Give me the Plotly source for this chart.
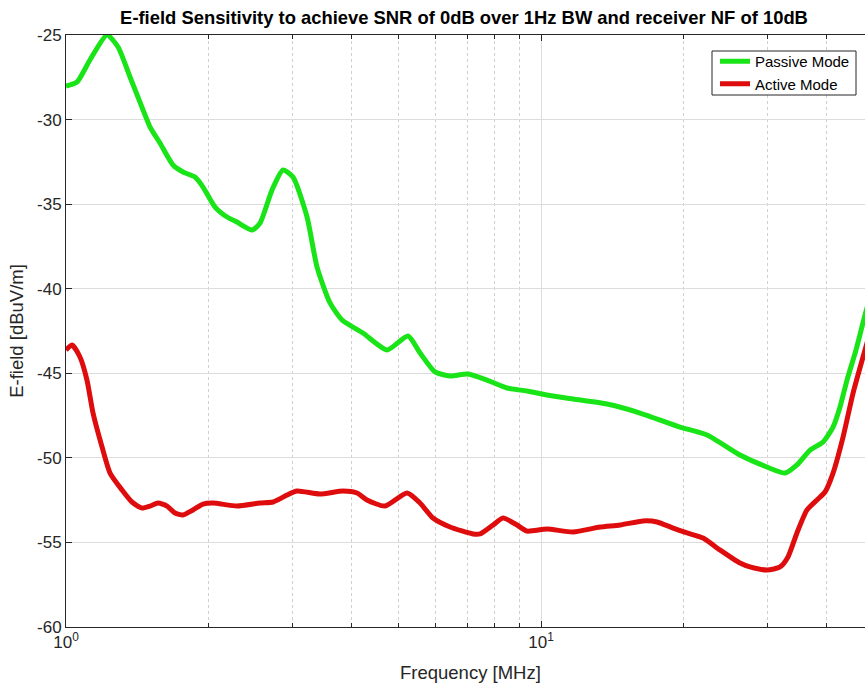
import plotly.graph_objects as go

# Frequencies in MHz and E-field values in dBuV/m
freq_passive = [1.000, 1.055, 1.123, 1.220, 1.287, 1.364, 1.445, 1.503, 1.577, 1.680,
                1.763, 1.869, 1.943, 2.060, 2.183, 2.291, 2.464, 2.561, 2.715, 2.863,
                3.005, 3.217, 3.377, 3.596, 3.812, 4.220, 4.741, 5.248, 5.564, 5.982,
                6.434, 7.020, 7.697, 8.480, 9.343, 10.29, 11.68, 13.77, 16.16, 19.62,
                22.36, 26.24, 29.91, 32.65, 34.58, 36.85, 39.25, 41.19, 42.61, 44.08,
                46.05, 48.10, 50.5]
e_passive = [-28.02, -27.78, -26.48, -25.00, -25.71, -27.48, -29.26, -30.44, -31.39, -32.69,
             -33.10, -33.40, -33.99, -35.17, -35.76, -36.06, -36.53, -36.12, -34.16, -32.98,
             -33.40, -35.76, -38.72, -40.84, -41.85, -42.62, -43.62, -42.80, -43.80, -44.92,
             -45.16, -45.04, -45.40, -45.87, -46.05, -46.28, -46.52, -46.82, -47.35, -48.18,
             -48.65, -49.83, -50.54, -50.90, -50.42, -49.54, -49.06, -48.18, -46.99, -45.40,
             -43.62, -41.55, -39.5]

freq_active = [1.000, 1.030, 1.070, 1.107, 1.140, 1.191, 1.238, 1.312, 1.377, 1.445,
               1.503, 1.562, 1.632, 1.696, 1.763, 1.851, 1.943, 2.040, 2.291, 2.561,
               2.729, 2.920, 3.064, 3.425, 3.831, 4.099, 4.302, 4.695, 5.223, 5.564,
               5.924, 6.434, 7.194, 7.441, 7.925, 8.318, 8.903, 9.343, 10.29, 11.68,
               13.31, 14.67, 16.40, 17.55, 18.97, 20.30, 21.94, 23.82, 26.24, 27.54,
               29.91, 31.86, 33.11, 34.58, 36.31, 38.11, 39.62, 41.19, 43.24, 45.39,
               48.10, 50.5]
e_active = [-43.62, -43.33, -44.04, -45.40, -47.35, -49.36, -50.90, -51.90, -52.61, -52.97,
            -52.85, -52.67, -52.85, -53.26, -53.38, -53.08, -52.73, -52.67, -52.85, -52.67,
            -52.61, -52.20, -51.96, -52.14, -51.96, -52.08, -52.49, -52.85, -52.08, -52.67,
            -53.56, -54.09, -54.50, -54.50, -53.97, -53.56, -53.97, -54.33, -54.21, -54.38,
            -54.09, -53.97, -53.73, -53.79, -54.15, -54.44, -54.74, -55.45, -56.22, -56.45,
            -56.63, -56.45, -55.86, -54.44, -53.08, -52.49, -52.02, -50.90, -48.77, -46.17,
            -43.62, -41.55]

x_tick_vals = [1, 10]
x_tick_text = ["10<sup>0</sup>", "10<sup>1</sup>"]
x_minor_vals = [2, 3, 4, 5, 6, 7, 8, 9, 20, 30, 40]
y_tick_vals = [-60, -55, -50, -45, -40, -35, -30, -25]
y_tick_text = ["-60", "-55", "-50", "-45", "-40", "-35", "-30", "-25"]

title_text = "E-field Sensitivity to achieve SNR of 0dB over 1Hz BW and receiver NF of 10dB"

FONT = "Liberation Sans, Arial, sans-serif"
AX = "#262626"

W, H = 865, 685
ML, MT, MB = 66, 35, 58
PW, PH = W - ML, H - MT - MB  # 799 x 592


def px_x(x):
    return (x - ML) / PW


def px_y(y):
    return (MT + PH - y) / PH


fig = go.Figure()
fig.add_trace(go.Scatter(x=freq_passive, y=e_passive, mode="lines", name="Passive Mode",
                         line=dict(color="rgb(24,228,24)", width=5, shape="spline", smoothing=0.6)))
fig.add_trace(go.Scatter(x=freq_active, y=e_active, mode="lines", name="Active Mode",
                         line=dict(color="rgb(222,12,12)", width=5, shape="spline", smoothing=0.6)))

fig.update_layout(
    width=W, height=H,
    margin=dict(l=ML, r=0, t=MT, b=MB, autoexpand=False),
    paper_bgcolor="white", plot_bgcolor="white",
    font=dict(family=FONT, size=17, color=AX),
    title=dict(text="<b>" + title_text + "</b>", x=px_x(464), xref="paper",
               xanchor="center", y=1 - 18 / H, yref="container", yanchor="middle",
               font=dict(family=FONT, size=18.4, color="black")),
    showlegend=True,
    legend=dict(x=px_x(715), xanchor="left", y=px_y(45), yanchor="top",
                bgcolor="rgba(0,0,0,0)", borderwidth=0,
                font=dict(family=FONT, size=15, color="black"),
                itemwidth=30, tracegroupgap=0),
    shapes=[dict(type="rect", xref="paper", yref="paper",
                 x0=px_x(712), x1=px_x(856), y0=px_y(95), y1=px_y(51),
                 line=dict(color=AX, width=1), fillcolor="white", layer="above")],
    xaxis=dict(type="log", range=[0, 1.6821],
               tickmode="array", tickvals=x_tick_vals, ticktext=x_tick_text,
               ticks="inside", ticklen=6, tickcolor=AX,
               showline=True, linecolor=AX, linewidth=1, mirror="allticks",
               showgrid=True, gridcolor="#dcdcdc", gridwidth=1,
               zeroline=False, automargin=False,
               tickfont=dict(size=17, color=AX),
               minor=dict(tickmode="array", tickvals=x_minor_vals, ticks="inside",
                          ticklen=4, tickcolor=AX, showgrid=True,
                          gridcolor="#cfcfcf", griddash="dot", gridwidth=1)),
    yaxis=dict(range=[-60, -25], tickmode="array", tickvals=y_tick_vals, ticktext=y_tick_text,
               ticks="inside", ticklen=6, tickcolor=AX,
               showline=True, linecolor=AX, linewidth=1, mirror=False,
               showgrid=True, gridcolor="#dcdcdc", gridwidth=1, zeroline=False,
               automargin=False,
               tickfont=dict(size=17, color=AX),
               title=dict(text="E-field [dBuV/m]", font=dict(size=18.5, color=AX), standoff=8)),
)

fig.add_annotation(text="Frequency [MHz]", xref="paper", yref="paper",
                   x=px_x(470), y=px_y(672), xanchor="center", yanchor="middle",
                   showarrow=False, font=dict(family=FONT, size=18.5, color=AX))

fig.write_html(
    "out.html",
    config={"displayModeBar": False},
    post_script=("document.body.style.margin='0';"
                 "document.body.style.overflow='hidden';"
                 "document.documentElement.style.overflow='hidden';"),
)
